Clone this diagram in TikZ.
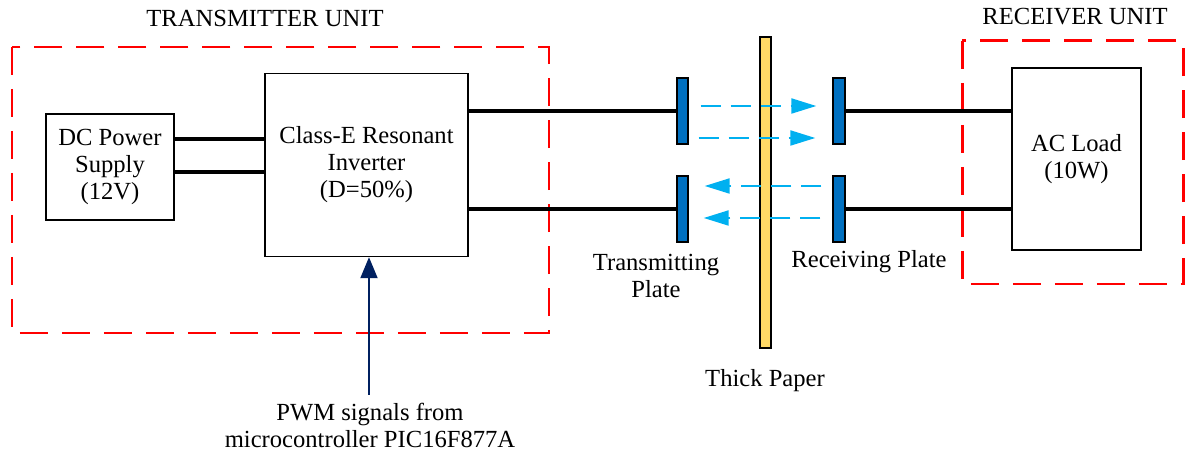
\documentclass[tikz,border=0pt]{standalone}
\usepackage{fontspec}
\setmainfont{Liberation Serif}
\usetikzlibrary{arrows.meta,calc}
\definecolor{plateblue}{HTML}{0070C0}
\definecolor{waveblue}{HTML}{00B0F0}
\definecolor{paperyellow}{HTML}{FFD966}
\definecolor{pwmnavy}{HTML}{002060}
\tikzset{
  blk/.style={draw, line width=0.8pt, align=center, font=\fontsize{14}{15.4}\selectfont},
  plate/.style={draw, fill=plateblue, line width=0.8pt, inner sep=0pt, minimum width=0.22cm, minimum height=1.32cm},
  wire/.style={line width=2pt},
  wave/.style={waveblue, line width=1.2pt, dash pattern=on 0.4cm off 0.2cm, -{Triangle[length=0.5cm,width=0.3cm]}},
  unitbox/.style={red, line width=1.7pt, dash pattern=on 0.56cm off 0.28cm},
  lbl/.style={align=center, font=\fontsize{14}{15.4}\selectfont},
}
\begin{document}
\begin{tikzpicture}[x=0.02cm, y=-0.02cm]
    \useasboundingbox (0,0) rectangle (1187,455);
    \draw[unitbox] (12,47) rectangle (549,333);
    \draw[unitbox] (962,41) rectangle (1183,284);
    \node[lbl] (txunit) at (265,18){TRANSMITTER UNIT};
    \node[lbl] (rxunit) at (1075,17){RECEIVER UNIT};

    \node[blk, minimum width=2.56cm, minimum height=2.12cm] (dc) at (110,167){DC Power\\Supply\\(12V)};
    \node[blk, minimum width=4.06cm, minimum height=3.66cm] (inv) at (366.5,165){Class-E Resonant\\Inverter\\(D=50\%)};
    \node[blk, minimum width=2.58cm, minimum height=3.64cm] (load) at (1076.5,159){AC Load\\(10W)};

    \node[draw, fill=paperyellow, line width=0.8pt, inner sep=0pt, minimum width=0.22cm, minimum height=6.22cm] (paper) at (765.5,192.5){};
    \node[plate] (tx1) at (682.5,111){};
    \node[plate] (tx2) at (682.5,209){};
    \node[plate, minimum width=0.24cm] (rx1) at (839,111){};
    \node[plate, minimum width=0.24cm] (rx2) at (839,209){};

    \draw[wire] ($(dc.east)+(0,-28)$) coordinate (d1) -- (d1 -| inv.west);
    \draw[wire] ($(dc.east)+(0,5)$) coordinate (d2) -- (d2 -| inv.west);
    \draw[wire] (inv.east |- tx1) -- (tx1.west);
    \draw[wire] (inv.east |- tx2) -- (tx2.west);
    \draw[wire] (rx1.east) -- (rx1 -| load.west);
    \draw[wire] (rx2.east) -- (rx2 -| load.west);

    \draw[wave] ($(tx1.east)+(12,-5)$) -- ($(rx1.west)+(-16,-5)$);
    \draw[wave] ($(tx1.east)+(10,27)$) -- ($(rx1.west)+(-17,27)$);
    \draw[wave] ($(rx2.west)+(-11,-23)$) -- ($(tx2.east)+(16,-23)$);
    \draw[wave] ($(rx2.west)+(-12,9)$) -- ($(tx2.east)+(15,9)$);

    \node[lbl] (txlbl) at (656,276){Transmitting\\Plate};
    \node[lbl] (rxlbl) at (869,262){Receiving Plate};
    \node[lbl] (paperlbl) at (765,381){Thick Paper};

    \node[lbl, inner sep=2pt] (pwm) at (370,425){PWM signals from\\microcontroller PIC16F877A};
    \draw[pwmnavy, line width=1.1pt, -{Triangle[length=0.42cm,width=0.34cm]}] ($(pwm.north)+(-1,-4)$) coordinate (pw) -- (pw |- inv.south);
\end{tikzpicture}
\end{document}
